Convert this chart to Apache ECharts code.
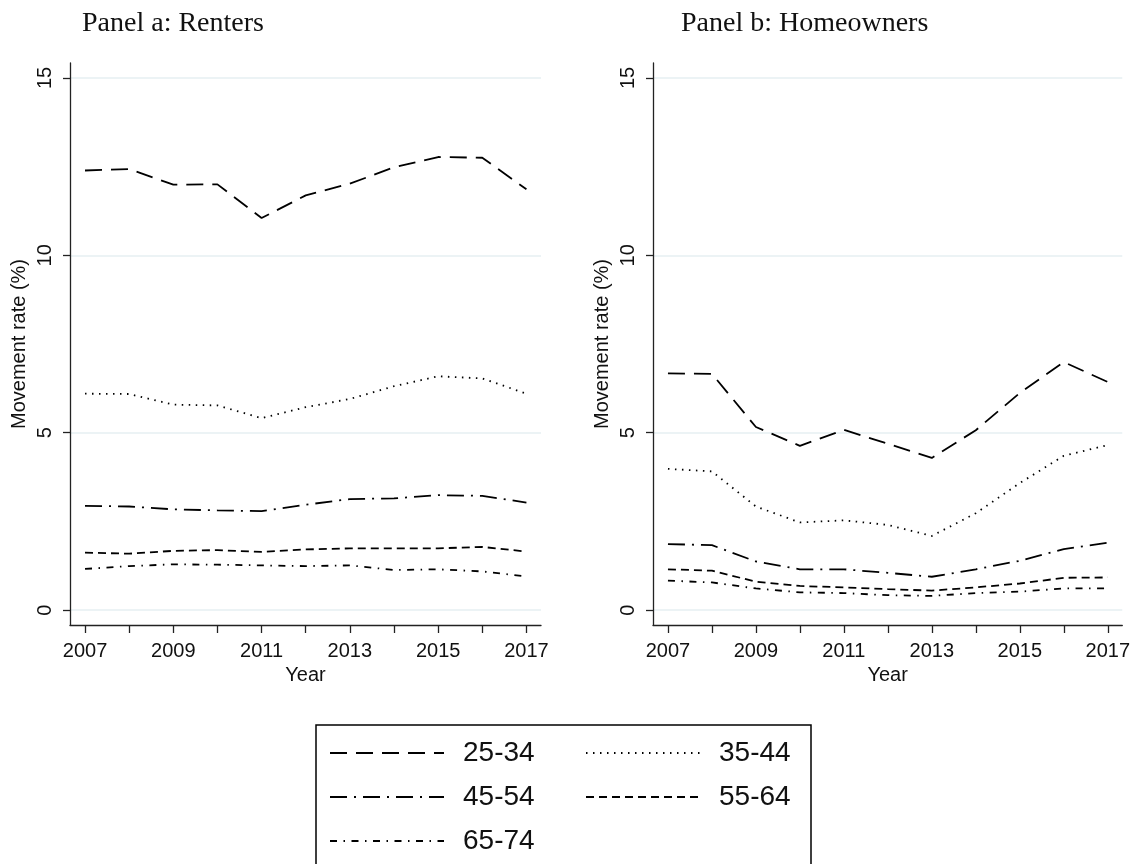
<!DOCTYPE html>
<html>
<head>
<meta charset="utf-8">
<script src="https://cdn.jsdelivr.net/npm/echarts@6/dist/echarts.min.js"></script>
<style>
  html, body { margin: 0; padding: 0; background: #fff; }
  #chart { width: 1133px; height: 864px; }
</style>
</head>
<body>
<div id="chart"></div>
<script>
// Annual movement rates (%) by age group, 2007-2017
const years = [2007, 2008, 2009, 2010, 2011, 2012, 2013, 2014, 2015, 2016, 2017];
const yearTicks = [2007, 2009, 2011, 2013, 2015, 2017];
const rateTicks = [0, 5, 10, 15];
const ageGroups = ['25-34', '35-44', '45-54', '55-64', '65-74'];
const legendLeftColumn = ['25-34', '45-54', '65-74'];
const legendRightColumn = ['35-44', '55-64'];

// Panel a: renters
const renters25 = [12.39, 12.43, 11.99, 12.00, 11.05, 11.69, 12.02, 12.48, 12.77, 12.75, 11.86];
const renters35 = [6.10, 6.09, 5.79, 5.77, 5.41, 5.72, 5.95, 6.31, 6.59, 6.53, 6.10];
const renters45 = [2.94, 2.92, 2.84, 2.81, 2.79, 2.97, 3.13, 3.15, 3.24, 3.22, 3.03];
const renters55 = [1.62, 1.59, 1.67, 1.69, 1.64, 1.71, 1.74, 1.74, 1.74, 1.78, 1.65];
const renters65 = [1.16, 1.24, 1.29, 1.28, 1.26, 1.24, 1.26, 1.13, 1.15, 1.09, 0.95];

// Panel b: homeowners
const owners25 = [6.67, 6.66, 5.16, 4.63, 5.08, 4.69, 4.29, 5.07, 6.12, 6.99, 6.43];
const owners35 = [3.98, 3.91, 2.92, 2.47, 2.53, 2.40, 2.09, 2.73, 3.58, 4.35, 4.65];
const owners45 = [1.86, 1.83, 1.37, 1.15, 1.15, 1.05, 0.94, 1.15, 1.39, 1.72, 1.90];
const owners55 = [1.15, 1.11, 0.80, 0.68, 0.64, 0.59, 0.55, 0.64, 0.75, 0.91, 0.92];
const owners65 = [0.83, 0.78, 0.61, 0.50, 0.48, 0.42, 0.40, 0.48, 0.52, 0.61, 0.61];

const rentersSeries = [renters25, renters35, renters45, renters55, renters65];
const ownersSeries = [owners25, owners35, owners45, owners55, owners65];

// dash pattern for each age group
const dashes = [
  [17, 9],
  [1.5, 5.5],
  [17, 7, 2, 7],
  [8, 5],
  [7, 6.5, 1.5, 6.5]
];

const SANS = 'Liberation Sans, Arial, sans-serif';
const SERIF = 'Liberation Serif, Times New Roman, serif';
const AXIS_COLOR = '#222';
const GRID_COLOR = '#e6eff2';

function xAxisFor(gridIndex) {
  return {
    type: 'value', gridIndex,
    min: 2006.66, max: 2017.33,
    name: 'Year', nameLocation: 'middle', nameGap: 39,
    nameTextStyle: { fontFamily: SANS, fontSize: 20, color: '#111' },
    axisLine: { onZero: false, lineStyle: { color: AXIS_COLOR, width: 1.3 } },
    axisTick: { customValues: years, length: 8, lineStyle: { color: AXIS_COLOR, width: 1.3 } },
    axisLabel: { customValues: yearTicks, formatter: v => String(v), fontFamily: SANS, fontSize: 20, color: '#111', margin: 16 },
    splitLine: { show: false }
  };
}

function yAxisFor(gridIndex) {
  return {
    type: 'value', gridIndex,
    min: -0.42, max: 15.42,
    name: 'Movement rate (%)', nameLocation: 'middle', nameGap: 41,
    nameTextStyle: { fontFamily: SANS, fontSize: 20, color: '#111' },
    axisLine: { show: true, onZero: false, lineStyle: { color: AXIS_COLOR, width: 1.3 } },
    axisTick: { show: true, customValues: rateTicks, length: 7, lineStyle: { color: AXIS_COLOR, width: 1.3 } },
    axisLabel: { customValues: rateTicks, rotate: 90, fontFamily: SANS, fontSize: 20, color: '#111', margin: 15 },
    splitLine: { show: true, lineStyle: { color: GRID_COLOR, width: 1.5 } }
  };
}

function seriesFor(gridIndex, groups) {
  return groups.map((vals, i) => ({
    type: 'line',
    name: ageGroups[i],
    xAxisIndex: gridIndex, yAxisIndex: gridIndex,
    data: years.map((yr, k) => [yr, vals[k]]),
    symbol: 'none',
    silent: true,
    animation: false,
    lineStyle: { color: '#000', width: 1.8, type: dashes[i] }
  }));
}

function legendColumn(names, left) {
  return {
    data: names,
    left, top: 739,
    orient: 'vertical',
    padding: 0,
    itemWidth: 114, itemHeight: 14, itemGap: 16,
    selectedMode: false,
    itemStyle: { opacity: 0, borderWidth: 0 },
    textStyle: { fontFamily: SANS, fontSize: 28, color: '#111', padding: [0, 0, 0, 14] }
  };
}

const chart = echarts.init(document.getElementById('chart'), null, { renderer: 'canvas' });
chart.setOption({
  backgroundColor: '#fff',
  animation: false,
  title: [
    { text: 'Panel a: Renters', left: 82, top: 10, padding: 0,
      textStyle: { fontFamily: SERIF, fontSize: 28, fontWeight: 'normal', color: '#111' } },
    { text: 'Panel b: Homeowners', left: 681, top: 10, padding: 0,
      textStyle: { fontFamily: SERIF, fontSize: 28, fontWeight: 'normal', color: '#111' } }
  ],
  grid: [
    { left: 70, top: 63, width: 471, height: 562 },
    { left: 653, top: 63, width: 470, height: 562 }
  ],
  xAxis: [xAxisFor(0), xAxisFor(1)],
  yAxis: [yAxisFor(0), yAxisFor(1)],
  legend: [legendColumn(legendLeftColumn, 329), legendColumn(legendRightColumn, 585)],
  graphic: [
    { type: 'rect', z: -1, silent: true,
      shape: { x: 316, y: 725, width: 495, height: 200 },
      style: { fill: 'none', stroke: '#000', lineWidth: 1.5 } }
  ],
  series: seriesFor(0, rentersSeries).concat(seriesFor(1, ownersSeries))
});
</script>
</body>
</html>
